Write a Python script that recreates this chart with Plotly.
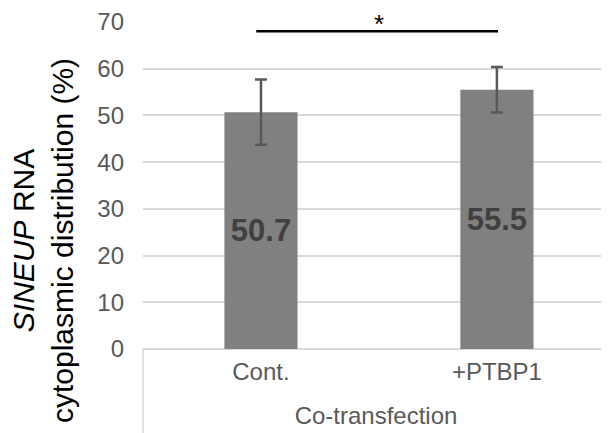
import plotly.graph_objects as go

categories = ["Cont.", "+PTBP1"]
values = [50.7, 55.5]
errors = [7.0, 4.85]
labels = ["50.7", "55.5"]
y_ticks = [0, 10, 20, 30, 40, 50, 60, 70]
sig_level = 68
sig_text = "*"

# page has an 8px body margin, so the figure is 8px smaller than the window
W, H = 601, 425
L, R, T, B = 135, 0, 14, 84
pw = W - L - R
ph = H - T - B

fig = go.Figure()
fig.add_trace(go.Bar(
    x=[0, 1], y=values, width=0.31,
    marker=dict(color="#808080", line=dict(width=0)),
    error_y=dict(type="data", array=errors, visible=True,
                 color="#595959", thickness=2.5, width=6),
    text=labels, textposition="inside", insidetextanchor="middle",
    textangle=0, constraintext="none",
    textfont=dict(family="Liberation Sans, Arial", size=31, color="#404040", weight="bold"),
    hoverinfo="skip",
))

fig.add_shape(type="line", xref="x", yref="y", x0=-0.02, x1=1.005,
              y0=sig_level, y1=sig_level, line=dict(color="black", width=2.5))
fig.add_annotation(x=0.5, y=sig_level, xref="x", yref="y", text=sig_text,
                   showarrow=False, yanchor="bottom", yshift=-10,
                   font=dict(family="Liberation Sans, Arial", size=26, color="black"))

# category divider line
fig.add_shape(type="line", xref="paper", yref="paper", x0=0, x1=0,
              y0=0, y1=-B / ph, line=dict(color="#d9d9d9", width=1.5))

fig.add_annotation(xref="paper", yref="paper", x=(35 - L) / pw, y=(H - B - 233) / ph,
                   text="<i>SINEUP</i> RNA<br>cytoplasmic distribution (%)",
                   textangle=-90, showarrow=False, xanchor="center", yanchor="middle",
                   font=dict(family="Liberation Sans, Arial", size=30, color="black"))

fig.update_layout(
    width=W, height=H,
    margin=dict(l=L, r=R, t=T, b=B, pad=0),
    paper_bgcolor="white", plot_bgcolor="white",
    showlegend=False,
    font=dict(family="Liberation Sans, Arial", size=24, color="#595959"),
    xaxis=dict(range=[-0.5, 1.475], tickmode="array", tickvals=[0, 1], ticktext=categories,
               showgrid=False, zeroline=False, showline=False,
               tickfont=dict(size=24, color="#595959"), ticklabelstandoff=6,
               title=dict(text="Co-transfection", font=dict(size=24, color="#595959"), standoff=23),
               fixedrange=True, automargin=False),
    yaxis=dict(range=[0, 70], tickmode="array", tickvals=y_ticks,
               showgrid=True, gridcolor="#d9d9d9", gridwidth=1.5,
               zeroline=True, zerolinecolor="#d9d9d9", zerolinewidth=1.5,
               showline=False, tickfont=dict(size=24, color="#595959"),
               ticklabelstandoff=18, fixedrange=True, automargin=False),
)

fig.write_html("out.html")
